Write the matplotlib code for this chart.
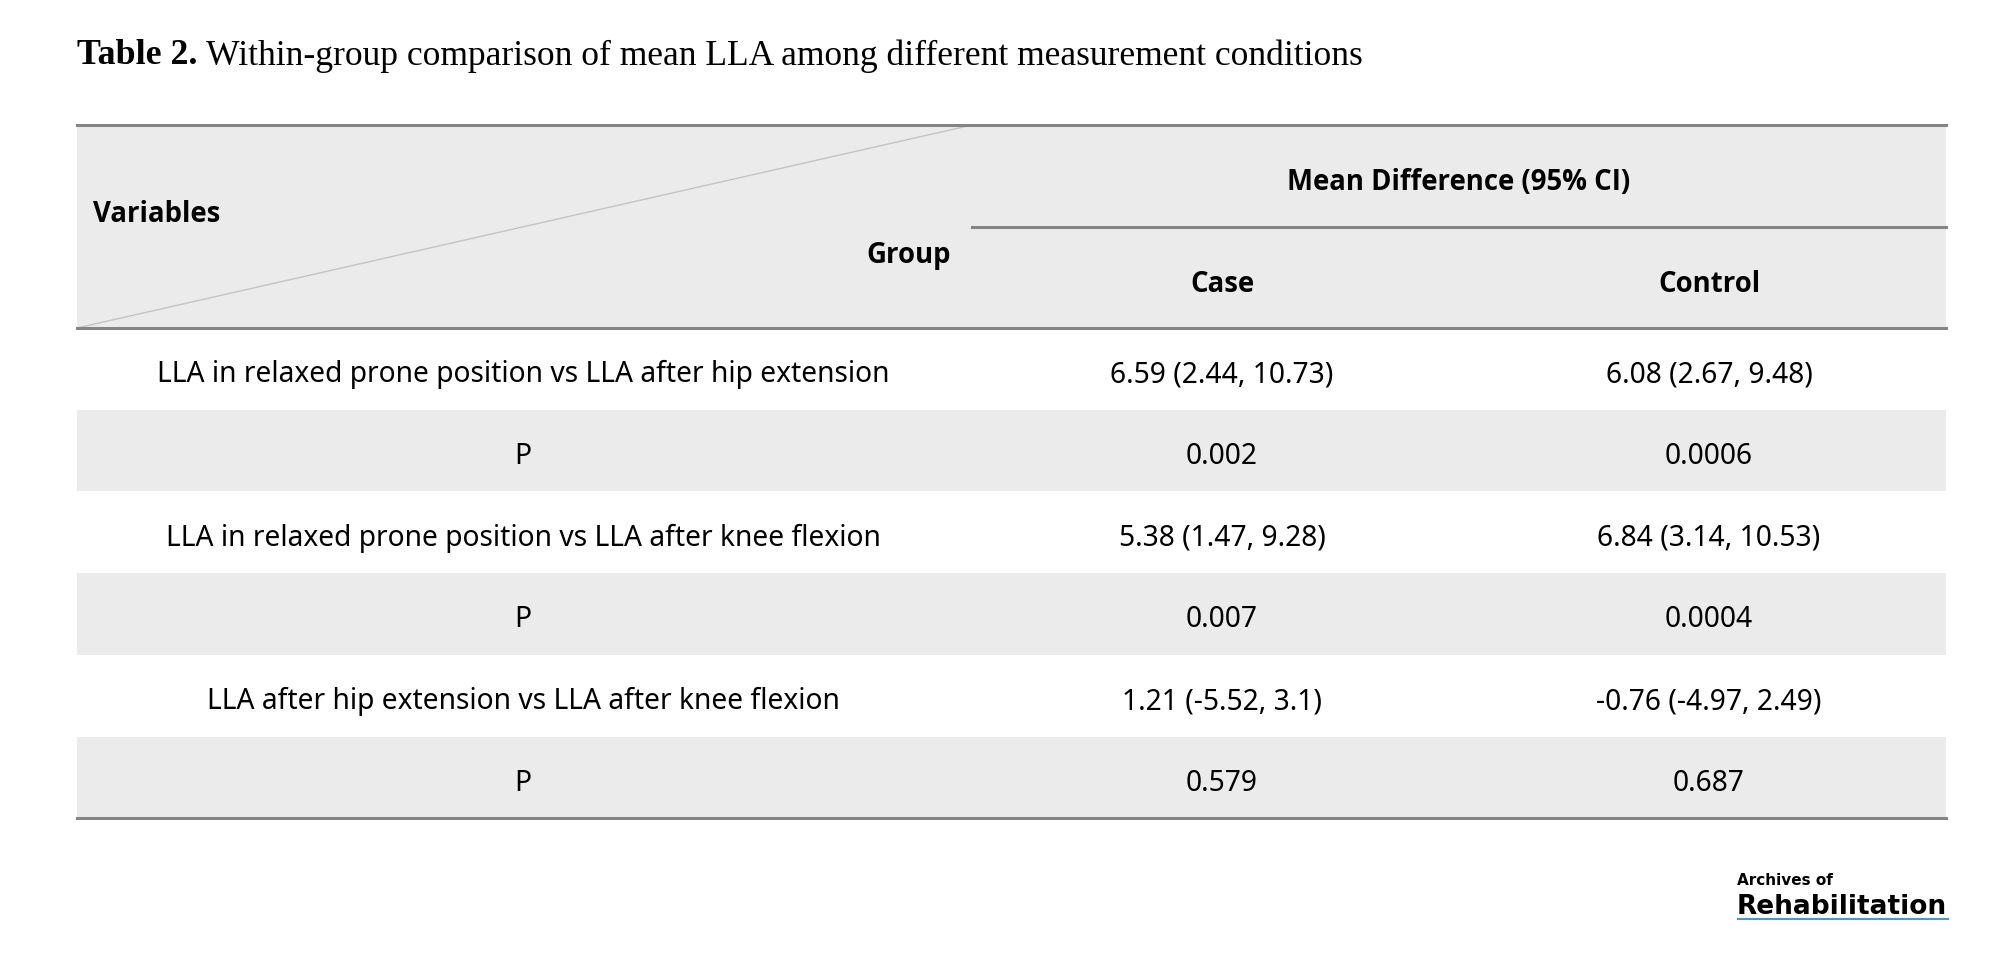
import matplotlib
matplotlib.use('Agg')
import matplotlib.pyplot as plt
from matplotlib.patches import Rectangle

# Datos de la tabla
comparaciones = [
    "LLA in relaxed prone position vs LLA after hip extension",
    "LLA in relaxed prone position vs LLA after knee flexion",
    "LLA after hip extension vs LLA after knee flexion",
]
case_md = ["6.59 (2.44, 10.73)", "5.38 (1.47, 9.28)", "1.21 (-5.52, 3.1)"]
control_md = ["6.08 (2.67, 9.48)", "6.84 (3.14, 10.53)", "-0.76 (-4.97, 2.49)"]
case_p = ["0.002", "0.007", "0.579"]
control_p = ["0.0006", "0.0004", "0.687"]

W, H = 2000, 954
fig = plt.figure(figsize=(W / 100, H / 100), dpi=100)
ax = fig.add_axes([0, 0, 1, 1])
ax.set_xlim(0, W)
ax.set_ylim(H, 0)
ax.axis('off')

gris = '#ebebeb'
linea = '#858585'
fuente = 'Noto Sans'
fuente_b = 'Open Sans'
fs = 20.3
fs_b = 19.8
dy = 5  # ajuste vertical del texto

x0, x1 = 77, 1946
xdiv = 972
x_var, x_case, x_ctrl = 523, 1222, 1709
y_top, y_mid, y_head = 126, 228, 329
row_h = 81.7

# Titulo
ax.text(x0, 56, "Table 2.", fontsize=25.8, fontweight='bold', family='Liberation Serif',
        va='center', ha='left')
ax.text(x0 + 129, 56, "Within-group comparison of mean LLA among different measurement conditions",
        fontsize=25.6, family='Liberation Serif', va='center', ha='left')

# Encabezado
ax.add_patch(Rectangle((x0, y_top), x1 - x0, y_head - y_top, facecolor=gris, edgecolor='none'))
ax.plot([x0, xdiv], [y_head, y_top], color='#c4c4c4', lw=1.0)
ax.plot([x0, x1], [y_top, y_top], color=linea, lw=2.2)
ax.plot([xdiv, x1], [y_mid, y_mid], color=linea, lw=2.2)
ax.plot([x0, x1], [y_head, y_head], color=linea, lw=2.2)

kw_b = dict(fontsize=fs_b, fontweight='bold', family=fuente_b, va='center')
ax.text(93, 209 + dy, "Variables", ha='left', **kw_b)
ax.text(951, 250 + dy, "Group", ha='right', **kw_b)
ax.text((xdiv + x1) / 2, 178 + dy, "Mean Difference (95% CI)", ha='center', **kw_b)
ax.text(x_case, 280 + dy, "Case", ha='center', **kw_b)
ax.text(x_ctrl, 280 + dy, "Control", ha='center', **kw_b)

# Filas
kw = dict(fontsize=fs, family=fuente, va='center', ha='center')
y = y_head
for i, comp in enumerate(comparaciones):
    yc = y + row_h / 2 + dy
    ax.text(x_var, yc, comp, **kw)
    ax.text(x_case, yc, case_md[i], **kw)
    ax.text(x_ctrl, yc, control_md[i], **kw)
    y += row_h
    ax.add_patch(Rectangle((x0, y), x1 - x0, row_h, facecolor=gris, edgecolor='none'))
    yc = y + row_h / 2 + dy
    ax.text(x_var, yc, "P", **kw)
    ax.text(x_case, yc, case_p[i], **kw)
    ax.text(x_ctrl, yc, control_p[i], **kw)
    y += row_h

ax.plot([x0, x1], [y, y], color=linea, lw=2.2)

# Logo
ax.text(1737, 881, "Archives of", fontsize=11, fontweight='bold', family='DejaVu Sans',
        va='center', ha='left')
ax.text(1737, 907, "Rehabilitation", fontsize=19, fontweight='bold', family='DejaVu Sans',
        va='center', ha='left')
ax.plot([1738, 1948], [920, 920], color='#4a9ac4', lw=1.5)

fig.savefig('out.png', dpi=100)
plt.close(fig)
